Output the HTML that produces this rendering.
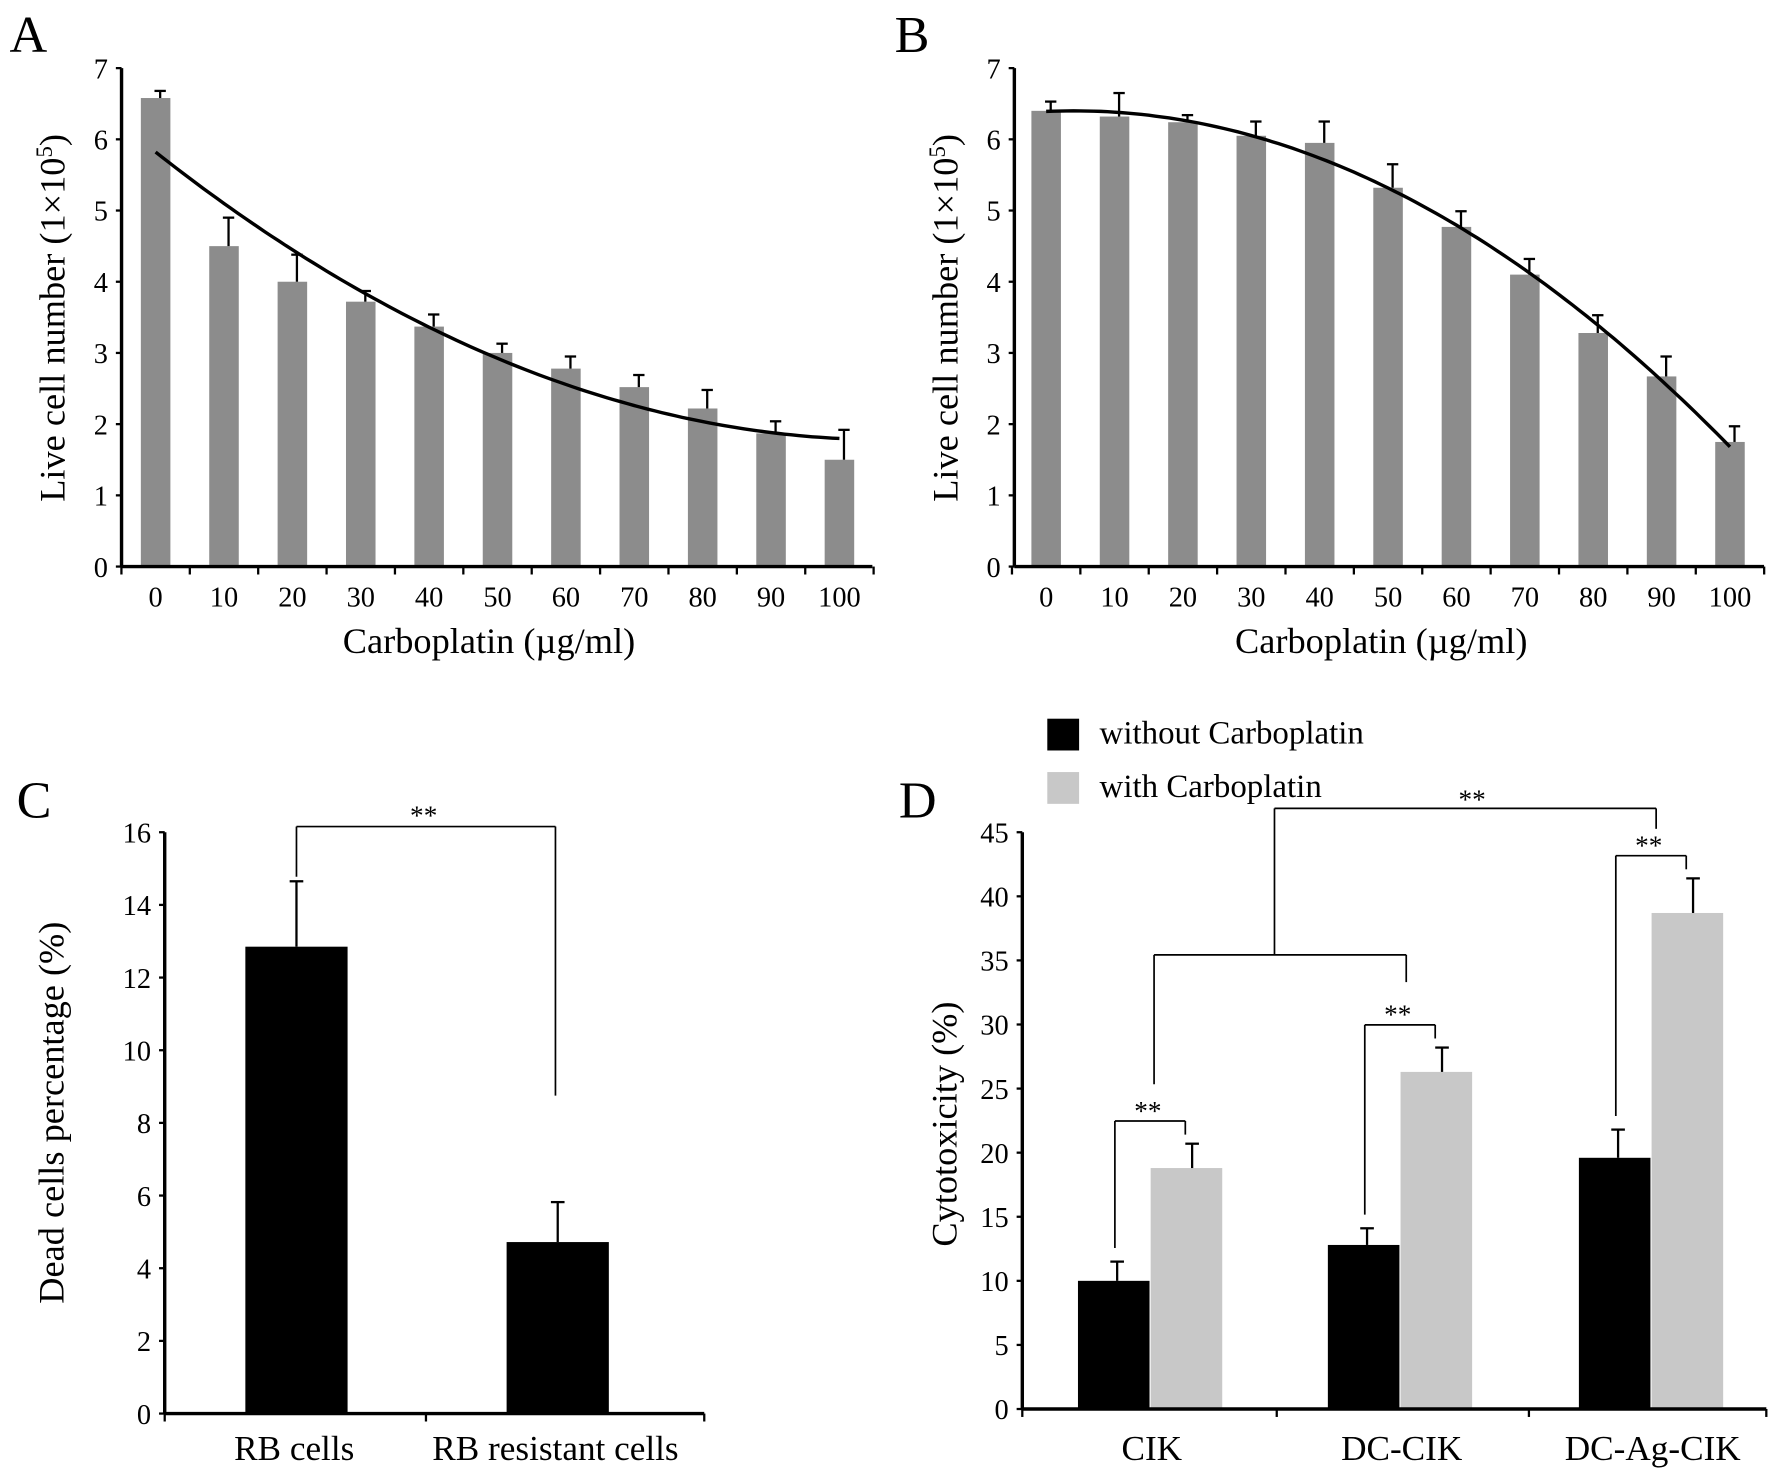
<!DOCTYPE html>
<html><head><meta charset="utf-8"><style>
html,body{margin:0;padding:0;background:#fff;}
svg{display:block;}
text{font-family:"Liberation Serif",serif;fill:#000;}
</style></head><body>
<svg id="fig" width="1772" height="1476" viewBox="0 0 1560 1300" preserveAspectRatio="none" xmlns="http://www.w3.org/2000/svg"></svg>
<script>
// ---- data ----
const doseLabels = ["0","10","20","30","40","50","60","70","80","90","100"];
const doseValues = [0,10,20,30,40,50,60,70,80,90,100];
const liveA = [6.58,4.5,4.0,3.72,3.37,3.0,2.78,2.52,2.22,1.87,1.5];
const liveAErr = [0.1,0.4,0.38,0.15,0.17,0.13,0.17,0.17,0.26,0.17,0.42];
const liveB = [6.4,6.32,6.24,6.05,5.95,5.32,4.77,4.1,3.28,2.67,1.75];
const liveBErr = [0.13,0.33,0.1,0.2,0.3,0.33,0.22,0.22,0.25,0.28,0.22];
const liveTicks = [0,1,2,3,4,5,6,7];
const cCategories = ["RB cells","RB resistant cells"];
const deadValues = [12.85,4.72];
const deadErr = [1.8,1.1];
const deadTicks = [0,2,4,6,8,10,12,14,16];
const dCategories = ["CIK","DC-CIK","DC-Ag-CIK"];
const withoutCarbo = [10.0,12.8,19.6];
const withoutErr = [1.5,1.3,2.2];
const withCarbo = [18.8,26.3,38.7];
const withErr = [1.9,1.9,2.7];
const cytoTicks = [0,5,10,15,20,25,30,35,40,45];

const svg = document.getElementById('fig');
const NS = 'http://www.w3.org/2000/svg';
function el(tag, attrs, parent){
  const e = document.createElementNS(NS, tag);
  for (const k in attrs) e.setAttribute(k, attrs[k]);
  (parent||svg).appendChild(e);
  return e;
}
function txt(s, x, y, size, anchor, parent, rot){
  const t = el('text', {x:x, y:y, 'font-size':size, 'text-anchor':anchor||'middle'}, parent);
  if (rot) t.setAttribute('transform', 'rotate(-90 '+x+' '+y+')');
  t.textContent = s;
  return t;
}
function line(x1,y1,x2,y2,w,parent){
  return el('line',{x1:x1,y1:y1,x2:x2,y2:y2,stroke:'#000','stroke-width':w||2},parent);
}
function quadFit(xs, ys){
  let S=[0,0,0,0,0], T=[0,0,0];
  for (let i=0;i<xs.length;i++){
    let p=1;
    for (let k=0;k<5;k++){ S[k]+=p; if(k<3) T[k]+=p*ys[i]; p*=xs[i]; }
  }
  const M=[[S[0],S[1],S[2],T[0]],[S[1],S[2],S[3],T[1]],[S[2],S[3],S[4],T[2]]];
  for (let i=0;i<3;i++){
    for (let j=i+1;j<3;j++){ const f=M[j][i]/M[i][i]; for(let k=i;k<4;k++) M[j][k]-=f*M[i][k]; }
  }
  const c=[0,0,0];
  for (let i=2;i>=0;i--){ let s=M[i][3]; for(let k=i+1;k<3;k++) s-=M[i][k]*c[k]; c[i]=s/M[i][i]; }
  return c;
}

// ---- panels A & B ----
function dosePanel(name, letter, lx, axisX, axisRight, firstCenter, vals, errs){
  const g = el('g',{});
  
  
  const y0=499, yTop=60, ymax=7;
  const Y = v => y0 - (v/ymax)*(y0-yTop);
  const sp = 60.2;
  const X = i => firstCenter + i*sp;
  txt(letter, lx, 46, 46, 'middle', g);
  vals.forEach((v,i)=>{
    const b = el('rect',{x:X(i)-13,y:Y(v),width:26,height:y0-Y(v),fill:'#8c8c8c'},g);
    
    
    const top = Y(v+errs[i]);
    line(X(i)+4,Y(v),X(i)+4,top,2,g);
    line(X(i)-1,top,X(i)+9,top,2,g);
  });
  const c = quadFit(doseValues, vals);
  let d='';
  for (let x=0;x<=100;x+=1){ const v=c[0]+c[1]*x+c[2]*x*x; d+=(x?'L':'M')+(X(0)+x/10*sp).toFixed(1)+' '+Y(v).toFixed(1); }
  const tr = el('path',{d:d,fill:'none',stroke:'#000','stroke-width':3},g);
  
  
  line(axisX,y0,axisX,yTop,3,g);
  line(axisX,y0,axisRight,y0,3,g);
  liveTicks.forEach(t=>{ line(axisX-5,Y(t),axisX,Y(t),2,g); txt(String(t),axisX-12,Y(t)+9,25,'end',g); });
  for (let i=0;i<=doseValues.length;i++){ const x=X(0)-sp/2+i*sp; line(x,y0,x,y0+7,2,g); }
  doseLabels.forEach((l,i)=>txt(l,X(i),534,25,'middle',g));
  txt('Carboplatin (\u00b5g/ml)',(axisX+axisRight)/2-7,575,32,'middle',g);
  const yl = txt('',axisX-50,280,32,'middle',g,true);
  yl.innerHTML='Live cell number (1\u00d710<tspan dy="-11" font-size="20">5</tspan><tspan dy="11">)</tspan>';
}
dosePanel('panel-a','A',25,107,768,137,liveA,liveAErr);
dosePanel('panel-b','B',803,893,1553,921,liveB,liveBErr);

// ---- panel C ----
(function(){
  const g = el('g',{});
  
  
  const y0=1245, yTop=733, ymax=16, ax=145, right=620;
  const Y = v => y0-(v/ymax)*(y0-yTop);
  const centers=[261,491];
  txt('C',30,720,46,'middle',g);
  deadValues.forEach((v,i)=>{
    const b=el('rect',{x:centers[i]-45,y:Y(v),width:90,height:y0-Y(v),fill:'#000'},g);
    
    
    const top=Y(v+deadErr[i]);
    line(centers[i],Y(v),centers[i],top,2,g);
    line(centers[i]-6,top,centers[i]+6,top,2,g);
    txt(cCategories[i],centers[i]-2,1286,31,'middle',g);
  });
  line(ax,y0,ax,yTop,3,g); line(ax,y0,right,y0,3,g);
  deadTicks.forEach(t=>{ line(ax-5,Y(t),ax,Y(t),2,g); txt(String(t),ax-12,Y(t)+9,25,'end',g); });
  [ax,375,right].forEach(x=>line(x,y0,x,y0+7,2,g));
  const yb=728;
  line(261,Y(deadValues[0]+deadErr[0])-4,261,yb,1.5,g); line(261,yb,489,yb,1.5,g); line(489,yb,489,965,1.5,g);
  txt('**',373,726,24,'middle',g);
  txt('Dead cells percentage (%)',56,980,32,'middle',g,true);
})();

// ---- panel D ----
(function(){
  const g = el('g',{});
  
  
  const y0=1241, yTop=733, ymax=45, ax=900, right=1555;
  const Y = v => y0-(v/ymax)*(y0-yTop);
  const groupCenters=[1012,1232,1453];
  const bw=63;
  txt('D',808,720,46,'middle',g);
  dCategories.forEach((c,i)=>{
    const cx=groupCenters[i];
    const b1=el('rect',{x:cx-bw,y:Y(withoutCarbo[i]),width:bw,height:y0-Y(withoutCarbo[i]),fill:'#000'},g);
    
    
    const b2=el('rect',{x:cx+1,y:Y(withCarbo[i]),width:bw,height:y0-Y(withCarbo[i]),fill:'#c8c8c8'},g);
    
    
    const t1=Y(withoutCarbo[i]+withoutErr[i]), x1=cx-bw/2+3;
    line(x1,Y(withoutCarbo[i]),x1,t1,2,g); line(x1-6,t1,x1+6,t1,2,g);
    const t2=Y(withCarbo[i]+withErr[i]), x2=cx+bw/2+6;
    line(x2,Y(withCarbo[i]),x2,t2,2,g); line(x2-6,t2,x2+6,t2,2,g);
    txt(c,cx+2,1286,31,'middle',g);
    const by=t2-20;
    line(x1-2,t1-12,x1-2,by,1.5,g); line(x1-2,by,x2-6,by,1.5,g); line(x2-6,by,x2-6,t2-8,1.5,g);
    txt('**',(x1+x2)/2-6,by-1,24,'middle',g);
  });
  line(ax,y0,ax,yTop,3,g); line(ax,y0,right,y0,3,g);
  cytoTicks.forEach(t=>{ line(ax-5,Y(t),ax,Y(t),2,g); txt(String(t),ax-12,Y(t)+9,25,'end',g); });
  [ax,1124,1346,right].forEach(x=>line(x,y0,x,y0+7,2,g));
  line(1016,955,1016,841,1.5,g); line(1016,841,1238,841,1.5,g); line(1238,841,1238,865,1.5,g);
  line(1122,841,1122,712,1.5,g); line(1122,712,1458,712,1.5,g); line(1458,712,1458,730,1.5,g);
  txt('**',1296,712,24,'middle',g);
  txt('Cytotoxicity (%)',842,990,32,'middle',g,true);
  const l1=el('rect',{x:922,y:633,width:28,height:28,fill:'#000'},g);
  
  
  txt('without Carboplatin',968,655,29,'start',g);
  const l2=el('rect',{x:922,y:680,width:28,height:28,fill:'#c8c8c8'},g);
  
  
  txt('with Carboplatin',968,702,29,'start',g);
})();
</script>
</body></html>
